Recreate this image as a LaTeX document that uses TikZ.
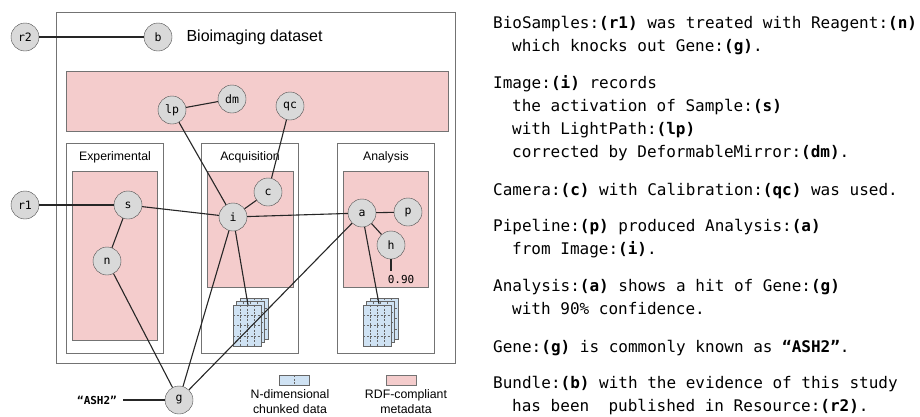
\documentclass[tikz,border=0pt]{standalone}
\usepackage{fontspec}
\setmainfont{Liberation Sans}
\setmonofont{DejaVu Sans Mono}
\definecolor{rdfpink}{HTML}{F4CCCC}
\definecolor{chunkblue}{HTML}{CFE2F3}
\definecolor{entgray}{HTML}{D9D9D9}
\newcommand\entfont{\ttfamily\fontsize{11.5}{13}\selectfont}
\newcommand\valfont{\ttfamily\fontsize{11}{13}\selectfont}
\newcommand\titlefont{\fontsize{16}{19}\selectfont}
\newcommand\boxfont{\fontsize{12.3}{15}\selectfont}
\newcommand\notefont{\ttfamily\fontsize{16}{19}\selectfont}
\tikzset{chunks/.pic={
  \foreach \k in {2,1,0}{
    \begin{scope}[shift={(3.5*\k,-3.5*\k)}]
      \draw[chunksheet] (0,0) rectangle (28,41);
      \foreach \u in {7,14,21} \draw[chunkgrid] (\u,0) -- (\u,41);
      \foreach \v in {10.25,20.5,30.75} \draw[chunkgrid] (0,\v) -- (28,\v);
    \end{scope}}
}}
\begin{document}
\begin{tikzpicture}[x=1pt,y=-1pt,
  entity/.style={circle,draw=black!70,fill=entgray,minimum size=28pt,inner sep=0pt,font=\entfont},
  rdfbox/.style={draw=black!55,fill=rdfpink},
  panelbox/.style={draw=black!55,fill=white},
  linkline/.style={line width=1.1pt,black!85},
  notetext/.style={anchor=base west,inner sep=0pt,font=\notefont},
  chunksheet/.style={draw=black!60,fill=chunkblue,line width=0.6pt},
  chunkgrid/.style={black!60,dash pattern=on 2pt off 1.5pt,line width=0.5pt}]
\useasboundingbox (0,0) rectangle (920,416);
% dataset and its parts
\draw[panelbox] (56,12) rectangle (455,363);
\draw[rdfbox] (66,71) rectangle (448,131);
\draw[panelbox] (66,143) rectangle (163,353);
\draw[panelbox] (201,143) rectangle (298,353);
\draw[panelbox] (337,143) rectangle (434,353);
\draw[rdfbox] (72,171) rectangle (157,340);
\draw[rdfbox] (207,171) rectangle (293,287);
\draw[rdfbox] (343,171) rectangle (428,287);
\pic at (233,305) {chunks};
\pic at (363,305) {chunks};
\node[anchor=west,font=\titlefont] (dataset) at (183,37) {Bioimaging dataset};
\node[font=\boxfont] (exptitle) at (115,157) {Experimental};
\node[font=\boxfont] (acqtitle) at (250,157) {Acquisition};
\node[font=\boxfont] (anatitle) at (386,157) {Analysis};
% entities
\node[entity] (r2) at (25,37) {r2};
\node[entity] (b) at (158,37) {b};
\node[entity] (lp) at (172,110) {lp};
\node[entity] (dm) at (232,99) {dm};
\node[entity] (qc) at (290,106) {qc};
\node[entity] (r1) at (25,205) {r1};
\node[entity] (s) at (128,205) {s};
\node[entity] (n) at (107,261) {n};
\node[entity] (c) at (268,192) {c};
\node[entity] (i) at (233,217) {i};
\node[entity] (a) at (362,213) {a};
\node[entity] (p) at (408,212) {p};
\node[entity] (h) at (391,245) {h};
\node[font=\valfont] (conf) at (401,279) {0.90};
\node[entity] (g) at (179,400) {g};
\node[font=\valfont\bfseries,inner sep=6pt] (ash) at (97,400) {“ASH2”};
\coordinate (acqdata) at (248,305);
\coordinate (anadata) at (379,304);
% links
\draw[linkline] (r2) -- (b);
\draw[linkline] (lp) -- (dm);
\draw[linkline] (lp) -- (i);
\draw[linkline] (qc) -- (c);
\draw[linkline] (c) -- (i);
\draw[linkline] (r1) -- (s);
\draw[linkline] (s) -- (i);
\draw[linkline] (s) -- (n);
\draw[linkline] (n) -- (g);
\draw[linkline] (i) -- (g);
\draw[linkline] (i) -- (a);
\draw[linkline] (a) -- (p);
\draw[linkline] (a) -- (h);
\draw[linkline] (a) -- (g);
\draw[linkline] (h) -- (h |- conf.north);
\draw[linkline] (i) -- (acqdata);
\draw[linkline] (a) -- (anadata);
\draw[linkline] (ash) -- (g);
% legend
\draw[chunksheet] (279,375) rectangle (309,385);
\draw[chunkgrid] (294,375) -- (294,385);
\draw[rdfbox] (386,375) rectangle (416,385);
\node[font=\boxfont,align=center] (chunklegend) at (290,402) {N-dimensional\\chunked data};
\node[font=\boxfont,align=center] (rdflegend) at (406,402) {RDF-compliant\\metadata};
% statements
\node[notetext] (l1) at (493,28) {BioSamples:\textbf{(r1)} was treated with Reagent:\textbf{(n)}};
\node[notetext] (l2) at (512,51) {which knocks out Gene:\textbf{(g)}.};
\node[notetext] (l3) at (493,88) {Image:\textbf{(i)} records};
\node[notetext] (l4) at (512,111) {the activation of Sample:\textbf{(s)}};
\node[notetext] (l5) at (512,134) {with LightPath:\textbf{(lp)}};
\node[notetext] (l6) at (512,157) {corrected by DeformableMirror:\textbf{(dm)}.};
\node[notetext] (l7) at (493,195) {Camera:\textbf{(c)} with Calibration:\textbf{(qc)} was used.};
\node[notetext] (l8) at (493,231) {Pipeline:\textbf{(p)} produced Analysis:\textbf{(a)}};
\node[notetext] (l9) at (512,254) {from Image:\textbf{(i)}.};
\node[notetext] (l10) at (493,291) {Analysis:\textbf{(a)} shows a hit of Gene:\textbf{(g)}};
\node[notetext] (l11) at (512,314) {with 90\% confidence.};
\node[notetext] (l12) at (493,352) {Gene:\textbf{(g)} is commonly known as \textbf{“ASH2”}.};
\node[notetext] (l13) at (493,388) {Bundle:\textbf{(b)} with the evidence of this study};
\node[notetext] (l14) at (512,411) {has been\ \ published in Resource:\textbf{(r2)}.};
\end{tikzpicture}
\end{document}
